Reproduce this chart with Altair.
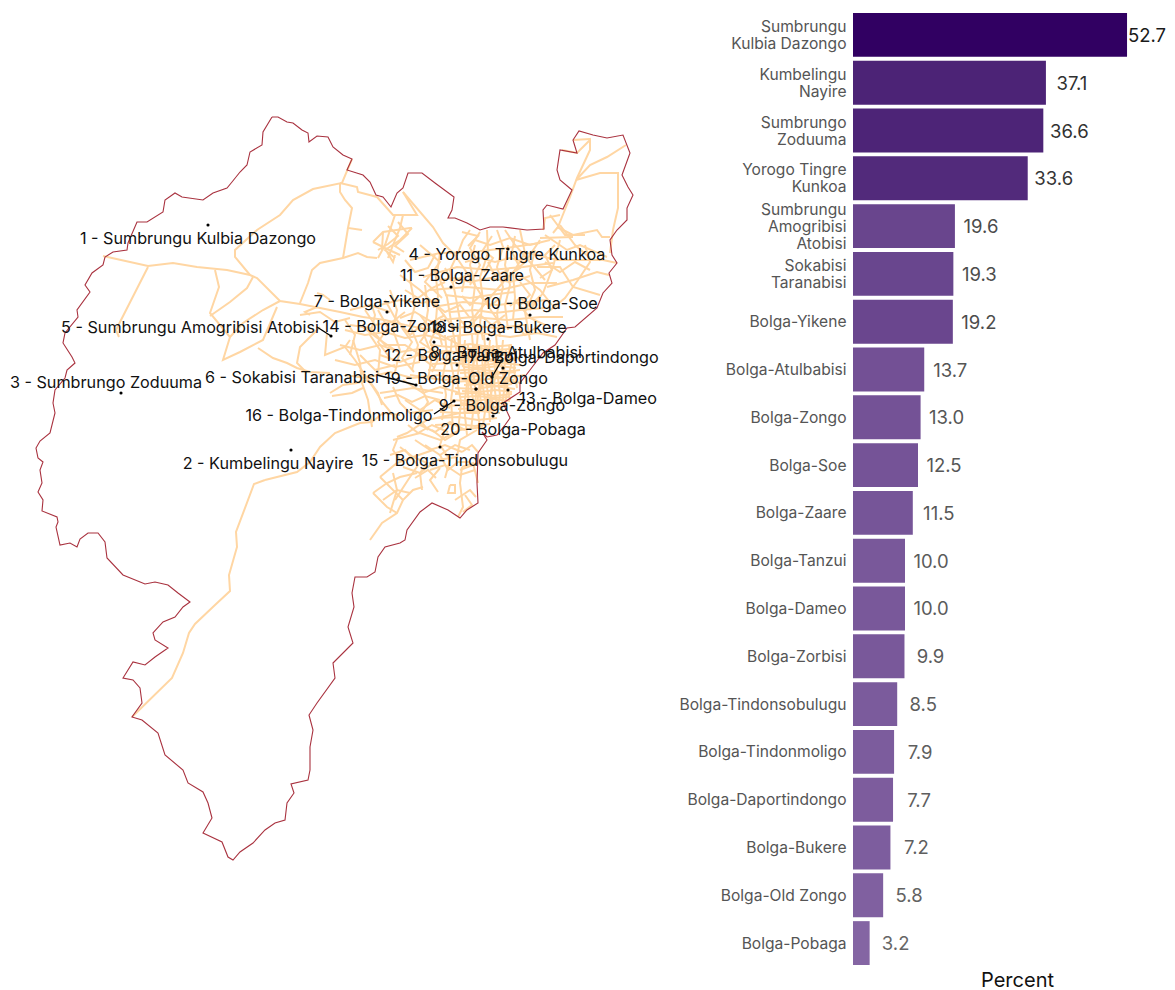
import altair as alt
import pandas as pd

FONT = "Inter"

# ---------- bar panel ----------
bar_names = ["Sumbrungu|Kulbia Dazongo", "Kumbelingu|Nayire", "Sumbrungo|Zoduuma", "Yorogo Tingre|Kunkoa",
             "Sumbrungu|Amogribisi|Atobisi", "Sokabisi|Taranabisi", "Bolga-Yikene", "Bolga-Atulbabisi",
             "Bolga-Zongo", "Bolga-Soe", "Bolga-Zaare", "Bolga-Tanzui", "Bolga-Dameo", "Bolga-Zorbisi",
             "Bolga-Tindonsobulugu", "Bolga-Tindonmoligo", "Bolga-Daportindongo", "Bolga-Bukere",
             "Bolga-Old Zongo", "Bolga-Pobaga"]
bar_values = [52.7, 37.1, 36.6, 33.6, 19.6, 19.3, 19.2, 13.7, 13.0, 12.5, 11.5, 10.0, 10.0, 9.9, 8.5, 7.9, 7.7, 7.2, 5.8, 3.2]

# ---------- map panel, in map units ----------
boundary = [
 (272,117),(278,117),(287,122),(293,123),(302,130),(308,133),(309,142),(317,136),(328,137),(333,147),(343,155),(352,159),
 (347,170),(363,175),(370,182),(376,195),(383,197),(391,207),(397,193),(403,188),(408,173),(422,173),(435,183),(454,197),
 (452,210),(448,218),(455,218),(467,223),(480,230),(490,227),(503,227),(527,230),(544,229),(543,210),(547,205),(563,209),
 (572,190),(560,180),(557,170),(560,150),(577,153),(573,140),(579,131),(593,135),(607,138),(623,135),(630,153),(622,175),
 (628,187),(633,195),(627,208),(627,220),(617,230),(610,240),(612,255),(617,263),(609,273),(612,283),(603,293),(597,308),
 (575,327),(567,328),(555,345),(543,353),(530,370),(520,383),(520,392),(503,403),(510,418),(505,425),(497,435),(487,437),
 (482,432),(487,440),(478,453),(477,483),(478,503),(467,510),(460,518),(448,510),(432,503),(420,512),(407,530),(405,540),
 (400,543),(385,547),(378,557),(375,572),(367,577),(355,577),(352,593),(354,607),(348,627),(353,643),(333,663),(335,678),
 (317,703),(309,715),(313,730),(310,747),(310,770),(308,780),(291,784),(294,793),(287,803),(285,820),(275,823),(265,830),
 (253,843),(240,852),(233,860),(228,857),(222,842),(203,833),(212,818),(208,803),(203,792),(188,783),(183,770),(165,755),
 (158,733),(142,720),(132,717),(142,703),(140,688),(133,680),(123,678),(133,662),(145,665),(155,657),(168,648),(155,640),
 (153,633),(163,622),(175,617),(183,607),(190,602),(178,593),(168,585),(155,582),(145,584),(123,575),(107,558),(105,542),
 (98,533),(88,533),(80,539),(77,547),(70,543),(60,545),(56,527),(58,522),(57,517),(42,511),(43,500),(38,492),(42,483),
 (40,470),(43,462),(38,458),(36,448),(40,441),(50,433),(55,413),(53,403),(55,390),(65,378),(67,370),(75,363),(72,357),
 (63,343),(65,333),(78,317),(77,310),(90,292),(85,285),(92,273),(103,265),(105,257),(113,252),(127,250),(128,243),(137,222),
 (147,222),(163,212),(165,200),(175,193),(182,197),(203,200),(213,193),(227,188),(232,182),(240,172),(247,165),(250,152),
 (262,145),(263,132),(272,117),
]

roads_main = [
 [(103,256),(148,266),(173,263),(197,267),(227,270),(250,275),(257,278),(280,301),(300,304),(320,308),(340,312),(363,317)],
 [(148,267),(120,322),(116,330),(119,337)],
 [(215,270),(219,287),(210,313),(230,337),(223,360),(240,352),(263,340),(277,307)],
 [(253,277),(247,288),(230,302),(210,316)],
 [(280,301),(263,310),(243,323),(230,337)],
 [(250,275),(235,257),(235,250),(257,230),(280,215),(293,200),(313,189),(342,183),(352,159)],
 [(340,183),(357,187),(358,192),(377,197),(393,215),(417,215),(403,192)],
 [(340,183),(340,192),(345,200),(352,208),(348,228),(362,230)],
 [(348,228),(343,258)],
 [(300,303),(308,283),(312,270),(320,263),(343,258),(358,253),(367,257),(377,258)],
 [(403,192),(433,227),(443,243),(455,255)],
 [(265,480),(254,484),(236,532),(237,547),(229,575),(230,591),(215,605),(195,624),(189,633),(183,653),(172,678),(132,717)],
 [(265,480),(297,472),(310,462),(320,447),(335,433),(350,427),(360,423),(372,422),(383,413),(400,415)],
 [(258,348),(273,358),(287,363),(297,368),(310,372),(330,373)],
 [(320,327),(300,347),(297,363),(307,373)],
 [(327,333),(325,355),(345,347),(350,340)],
 [(330,393),(343,385),(357,383),(368,380)],
 [(332,396),(352,393),(363,388)],
 [(353,340),(360,363),(362,383),(368,400),(372,427)],
 [(345,347),(355,360),(365,375),(378,393),(382,405)],
]
roads_north_cluster = [
 [(373,242),(383,232),(410,228),(412,228)],
 [(395,215),(390,230),(385,245),(378,258)],
 [(403,215),(400,228),(395,240),(388,258)],
 [(412,228),(400,240),(385,250),(395,258)],
 [(373,242),(385,248),(400,255)],
 [(395,255),(393,262),(387,252)],
 [(383,232),(382,250)],
 [(398,222),(408,234),(395,246),(404,252)],
 [(388,226),(398,236),(388,244),(378,250)],
 [(317,293),(323,295),(330,300)],
 [(317,307),(305,312),(310,315)],
]
roads_east = [
 [(562,150),(577,153),(590,140),(590,150),(577,178),(570,197),(562,217),(558,227),(553,233)],
 [(573,140),(590,139)],
 [(626,145),(607,157),(590,165),(577,179)],
 [(576,180),(600,173),(618,173),(618,208),(613,230),(610,253)],
 [(543,230),(545,218),(560,215)],
 [(557,227),(573,235),(597,230),(602,237),(610,237)],
 [(540,238),(573,237)],
 [(545,235),(567,250),(580,245),(607,257)],
 [(527,253),(557,260),(603,260),(617,263)],
 [(537,267),(560,267),(573,287),(600,295)],
 [(547,287),(573,280),(597,272),(609,275)],
 [(560,240),(553,267),(543,293),(530,310)],
 [(520,230),(525,253),(513,273),(515,297),(513,320)],
 [(497,230),(503,247),(497,267),(503,287),(497,313),(500,337)],
 [(487,230),(488,253),(480,277),(483,300),(480,323),(483,340)],
 [(470,230),(463,240),(458,253),(450,270),(455,293),(460,320),(460,347),(463,367)],
 [(440,253),(437,273),(447,297),(452,327),(457,353)],
 [(410,260),(440,253),(473,252),(507,248),(540,243)],
 [(423,277),(457,267),(490,270),(523,267),(553,263)],
 [(430,290),(467,287),(500,290),(530,283),(557,283)],
 [(433,307),(463,302),(497,305),(527,302),(547,300)],
 [(440,320),(473,317),(507,320),(540,317),(563,317)],
 [(447,337),(480,333),(510,337),(537,333),(557,337)],
 [(475,240),(490,245),(510,238),(530,245),(550,240)],
 [(465,262),(480,258),(495,262),(510,258),(525,262)],
 [(440,280),(455,278),(470,282),(490,278),(510,282),(530,276)],
 [(445,295),(470,298),(490,295),(515,292)],
 [(450,312),(475,310),(495,313),(520,310),(545,308)],
 [(455,328),(475,326),(495,328),(525,325)],
 [(508,245),(505,265),(510,285),(505,305),(508,330)],
 [(475,245),(470,265),(475,285),(472,310),(476,335)],
 [(535,250),(530,270),(535,290),(525,312),(530,340)],
 [(455,255),(465,270),(478,290),(492,312),(505,330)],
 [(540,240),(525,262),(505,280),(488,300),(470,322)],
 [(505,230),(515,245),(530,262),(545,280)],
 [(480,232),(470,248),(480,265),(470,285)],
 [(560,225),(575,245),(590,258)],
 [(550,215),(565,235),(585,235)],
 [(585,245),(590,262),(578,280),(565,298),(548,312)],
 [(520,275),(540,290),(552,305)],
 [(515,300),(530,318),(545,325)],
 [(420,245),(440,262),(425,282),(442,298)],
 [(492,236),(483,250),(493,258),(484,272)],
 [(515,236),(512,252),(520,268),(510,274)],
 [(555,245),(545,255),(552,270),(540,278)],
 [(462,296),(470,305),(480,296),(490,306),(500,298)],
 [(510,306),(520,298),(530,306),(540,296)],
 [(445,268),(452,282),(465,276),(462,292)],
 [(488,262),(495,276),(508,270),(502,284)],
 [(520,282),(530,295),(520,305)],
 [(458,318),(468,328),(480,315),(492,325),(505,315)],
 [(515,325),(525,335),(540,325)],
 [(462,232),(478,236),(468,246)],
 [(545,262),(560,272),(575,262),(590,270)],
]
roads_west_of_town = [
 [(363,317),(385,320),(405,325),(430,330),(450,340),(470,350)],
 [(370,300),(375,315),(370,335),(380,350),(378,375)],
 [(390,290),(397,310),(393,330),(400,350),(395,372)],
 [(410,280),(415,305),(410,325),(418,345),(412,370)],
 [(425,285),(428,310),(424,335),(432,355),(428,380)],
 [(435,270),(438,295),(436,320),(442,345)],
 [(380,305),(400,300),(420,303),(440,300)],
 [(345,330),(365,335),(385,332),(405,338),(425,335),(445,340)],
 [(340,345),(360,350),(380,345),(400,352),(425,348)],
 [(335,360),(355,365),(375,360),(395,367),(420,362)],
 [(345,375),(365,378),(390,372),(412,378),(440,375)],
 [(350,310),(370,305),(390,312)],
 [(360,325),(380,340),(395,350)],
 [(400,275),(420,290),(440,310),(455,330)],
 [(300,315),(320,312),(335,322),(350,318)],
 [(345,320),(355,335),(350,355)],
 [(365,310),(375,325),(392,322),(405,312)],
 [(385,300),(395,318),(410,335),(425,322)],
 [(400,318),(415,312),(432,322),(445,315)],
 [(350,325),(370,328),(385,345),(405,345),(425,358),(445,352)],
 [(380,355),(400,362),(418,355),(435,368)],
 [(360,355),(375,370),(395,365)],
 [(430,300),(445,312),(460,305),(470,318)],
 [(405,290),(418,298),(432,288),(445,282)],
 [(378,310),(388,328),(378,342),(390,358)],
 [(402,328),(412,342),(402,358),(414,372)],
 [(420,315),(430,328),(420,342),(435,352)],
 [(438,325),(430,342),(438,360),(432,372)],
 [(405,260),(415,272),(428,268),(435,255)],
]
roads_south = [
 [(360,370),(373,387),(383,403),(397,420)],
 [(393,387),(400,403),(410,413),(433,410)],
 [(403,380),(423,393),(440,387),(460,393)],
 [(410,375),(443,380),(467,378)],
 [(380,393),(413,388),(443,393)],
 [(393,440),(420,433),(440,440),(460,430),(483,427)],
 [(397,437),(407,433),(427,420),(460,413),(480,413)],
 [(420,473),(437,460),(457,457),(460,440),(477,430)],
 [(462,467),(460,483),(463,507),(458,517)],
 [(478,483),(473,463),(462,467)],
 [(460,470),(478,463)],
 [(450,485),(448,493),(455,493),(455,485),(450,485)],
 [(370,540),(382,523),(397,513),(403,500),(413,490),(423,487)],
 [(373,493),(387,483),(400,477),(417,473)],
 [(373,493),(387,507),(397,513)],
 [(380,477),(390,487),(403,500)],
 [(383,500),(397,490),(410,493)],
 [(393,473),(397,490),(390,513)],
 [(403,467),(420,473),(422,490)],
 [(380,477),(397,463),(413,457),(433,450)],
 [(400,447),(413,457),(427,463),(420,473)],
 [(397,440),(393,450),(400,460)],
 [(425,445),(440,455),(455,445),(470,450)],
 [(430,470),(445,465),(460,475),(475,470)],
 [(432,430),(445,440),(458,432)],
 [(415,440),(430,450),(445,445),(462,452)],
 [(420,425),(435,432),(450,422),(465,430)],
 [(440,455),(448,470),(458,462),(470,462)],
 [(405,400),(420,410),(435,400),(450,408)],
 [(420,385),(428,402),(418,418),(428,430)],
 [(445,430),(440,445),(450,460),(445,478)],
 [(390,455),(405,450),(418,465),(408,480),(395,500)],
 [(465,495),(472,505),(463,512)],
 [(455,500),(470,490),(476,497)],
 [(384,398),(398,395),(412,402),(425,396),(440,400)],
 [(408,425),(418,433),(432,425),(448,432)],
 [(440,468),(430,480),(438,492)],
 [(462,452),(472,445),(478,452)],
 [(415,478),(428,470),(436,478)],
]
roads_core = [
 [(430,345),(450,347),(470,344),(490,347),(512,345)],
 [(425,352),(447,351),(468,354),(490,351),(515,353)],
 [(430,358),(452,360),(474,357),(495,360),(520,358)],
 [(432,364),(455,363),(478,366),(500,363),(522,365)],
 [(428,370),(452,371),(476,369),(500,372),(520,370)],
 [(440,376),(462,378),(484,375),(505,378),(525,375)],
 [(447,382),(470,381),(490,384),(510,381),(522,383)],
 [(455,388),(475,389),(495,386),(515,389)],
 [(455,394),(475,393),(495,396),(512,394)],
 [(450,400),(472,401),(492,399),(510,401)],
 [(445,406),(465,405),(485,408),(505,406)],
 [(440,412),(460,413),(480,411),(500,413)],
 [(438,418),(458,417),(478,420),(497,418)],
 [(435,425),(455,424),(475,426),(490,424)],
 [(445,335),(447,355),(443,375),(446,395),(442,420)],
 [(452,338),(450,358),(454,378),(451,400),(453,430)],
 [(458,335),(460,360),(457,380),(461,402),(458,432)],
 [(465,340),(463,362),(467,384),(464,406),(467,435)],
 [(472,335),(474,360),(470,382),(474,404),(471,430)],
 [(478,330),(476,358),(480,380),(477,405),(480,428)],
 [(484,335),(486,358),(482,382),(486,405),(483,425)],
 [(490,340),(488,362),(492,384),(489,408),(490,422)],
 [(496,335),(498,360),(494,384),(497,406)],
 [(503,340),(501,362),(505,385),(502,405)],
 [(509,345),(511,365),(507,385),(510,400)],
 [(516,350),(514,370),(517,388)],
]
roads_core_fill = [
 [(462,349),(480,348),(496,350),(510,349)],
 [(460,355),(478,356),(494,354),(512,356)],
 [(462,361),(480,360),(498,362),(514,360)],
 [(464,367),(482,368),(498,366),(516,368)],
 [(460,373),(478,372),(496,374),(516,372)],
 [(462,379),(480,380),(498,378),(514,380)],
 [(464,385),(482,384),(498,386),(512,384)],
 [(462,391),(480,392),(496,390),(512,392)],
 [(460,397),(478,396),(494,398),(510,397)],
 [(460,403),(476,404),(494,402),(508,404)],
 [(458,409),(476,408),(492,410),(503,409)],
 [(468,345),(469,370),(468,395),(470,412)],
 [(475,345),(473,370),(476,395),(474,412)],
 [(481,345),(483,370),(480,395),(482,412)],
 [(487,345),(485,370),(488,395),(486,412)],
 [(493,345),(495,370),(491,395),(494,410)],
 [(499,345),(497,370),(500,395),(498,408)],
 [(506,350),(504,372),(507,392),(505,405)],
]

label_text = ["1 - Sumbrungu Kulbia Dazongo", "2 - Kumbelingu Nayire", "3 - Sumbrungo Zoduuma", "4 - Yorogo Tingre Kunkoa",
              "5 - Sumbrungu Amogribisi Atobisi", "6 - Sokabisi Taranabisi", "7 - Bolga-Yikene", "8 - Bolga-Atulbabisi",
              "9 - Bolga-Zongo", "10 - Bolga-Soe", "11 - Bolga-Zaare", "12 - Bolga-Tanzui", "13 - Bolga-Dameo",
              "14 - Bolga-Zorbisi", "15 - Bolga-Tindonsobulugu", "16 - Bolga-Tindonmoligo", "17 - Bolga-Daportindongo",
              "18 - Bolga-Bukere", "19 - Bolga-Old Zongo", "20 - Bolga-Pobaga"]
label_x = [198, 268, 106, 507, 190, 292, 377, 506, 502, 541, 462, 451, 588, 391, 465, 339, 560, 498, 466, 513]
label_y = [239, 464, 383, 255, 328, 378, 302, 353, 406, 304, 276, 356, 399, 327, 461, 416, 358, 328, 379, 430]

dot_x = [208, 291, 121, 508, 331, 416, 387, 434, 476, 530, 451, 457, 508, 503, 440, 454, 492, 488, 476, 493]
dot_y = [225, 450, 393, 249, 336, 385, 312, 342, 389, 315, 287, 365, 390, 368, 447, 401, 377, 339, 389, 416]

leaders = [
 [(317,327),(331,336)],
 [(377,375),(416,385)],
 [(434,414),(454,401)],
 [(503,358),(492,377)],
]

# ---------- tables ----------
def road_table(groups):
    rows = []
    n = 0
    for group in groups:
        for line in group:
            for i, (x, y) in enumerate(line):
                rows.append({"id": n, "i": i, "x": x, "y": y})
            n += 1
    return pd.DataFrame(rows)

roads_df = road_table([roads_main, roads_north_cluster, roads_east, roads_west_of_town, roads_south, roads_core, roads_core_fill])
bound_df = pd.DataFrame([{"i": i, "x": x, "y": y} for i, (x, y) in enumerate(boundary)])
leader_df = road_table([leaders])
dots_df = pd.DataFrame({"x": dot_x, "y": dot_y})
labels_df = pd.DataFrame({"t": label_text, "x": label_x, "y": label_y})
bars_df = pd.DataFrame({"name": bar_names, "v": bar_values})

MAP_W, MAP_H = 660, 964
sx = alt.Scale(domain=[8, 8 + MAP_W], zero=False, nice=False)
sy = alt.Scale(domain=[8 + MAP_H, 8], zero=False, nice=False)
X = alt.X("x:Q", scale=sx, axis=None)
Y = alt.Y("y:Q", scale=sy, axis=None)

roads = alt.Chart(roads_df).mark_line(color="#ffd6a3", strokeWidth=2.0, interpolate="linear").encode(
    x=X, y=Y, detail="id:N", order="i:Q")
bound = alt.Chart(bound_df).mark_line(color="#a9323f", strokeWidth=1.1).encode(x=X, y=Y, order="i:Q")
lead = alt.Chart(leader_df).mark_line(color="#000000", strokeWidth=1.3).encode(x=X, y=Y, detail="id:N", order="i:Q")
dots = alt.Chart(dots_df).mark_circle(color="#000000", size=10, opacity=1).encode(x=X, y=Y)
labels = alt.Chart(labels_df).mark_text(font=FONT, fontSize=16.2, color="#111111", align="center", baseline="middle").encode(
    x=X, y=Y, text="t:N")
map_panel = alt.layer(roads, bound, dots, lead, labels).properties(width=MAP_W, height=MAP_H)

BAR_W, BAR_H = 314, 962
x_bar = alt.X("v:Q", scale=alt.Scale(domain=[0, BAR_W / 5.2], nice=False, zero=True),
              axis=alt.Axis(title="Percent", labels=False, ticks=False, domain=False, grid=False,
                            titleFont=FONT, titleFontSize=20, titleFontWeight="normal", titleColor="#111111",
                            titleX=164, titleY=10, titleBaseline="middle"))
y_bar = alt.Y("name:N", sort=bar_names,
              scale=alt.Scale(paddingInner=0.082, paddingOuter=0.104),
              axis=alt.Axis(title=None, ticks=False, domain=False, grid=False, labelPadding=7,
                            labelFont=FONT, labelFontSize=15.6, labelColor="#555555", labelLineHeight=17,
                            labelExpr="split(datum.label,'|')", labelLimit=300,
                            labelOffset={"condition": [
                                {"test": "length(split(datum.label,'|'))==3", "value": -16.5},
                                {"test": "length(split(datum.label,'|'))==2", "value": -8}],
                                "value": 0.5}))
bars = alt.Chart(bars_df).mark_bar().encode(
    x=x_bar, y=y_bar,
    color=alt.Color("v:Q", scale=alt.Scale(domain=[3.2, 52.7], range=["#8465a3", "#310062"]), legend=None))
fill_val = alt.Fill("v:Q", scale=alt.Scale(domain=[3.2, 52.7], range=["#666666", "#1a1a1a"]), legend=None)
vals = alt.Chart(bars_df).transform_filter("datum.v < 50").mark_text(
    font=FONT, fontSize=18.5, align="center", baseline="middle", dx=26, dy=1).encode(
    x=x_bar, y=y_bar, text=alt.Text("v:Q", format=".1f"), fill=fill_val)
val_top = alt.Chart(bars_df).transform_filter("datum.v >= 50").mark_text(
    font=FONT, fontSize=18.5, align="center", baseline="middle", dx=20, dy=1).encode(
    x=x_bar, y=y_bar, text=alt.Text("v:Q", format=".1f"), fill=fill_val)
bar_panel = alt.layer(bars, vals, val_top).properties(width=BAR_W, height=BAR_H)

chart = alt.hconcat(map_panel, bar_panel, spacing=11).properties(padding=0, background="#ffffff").configure_view(strokeWidth=0)
chart.save("out.html", embed_options={"renderer": "svg", "actions": False})
